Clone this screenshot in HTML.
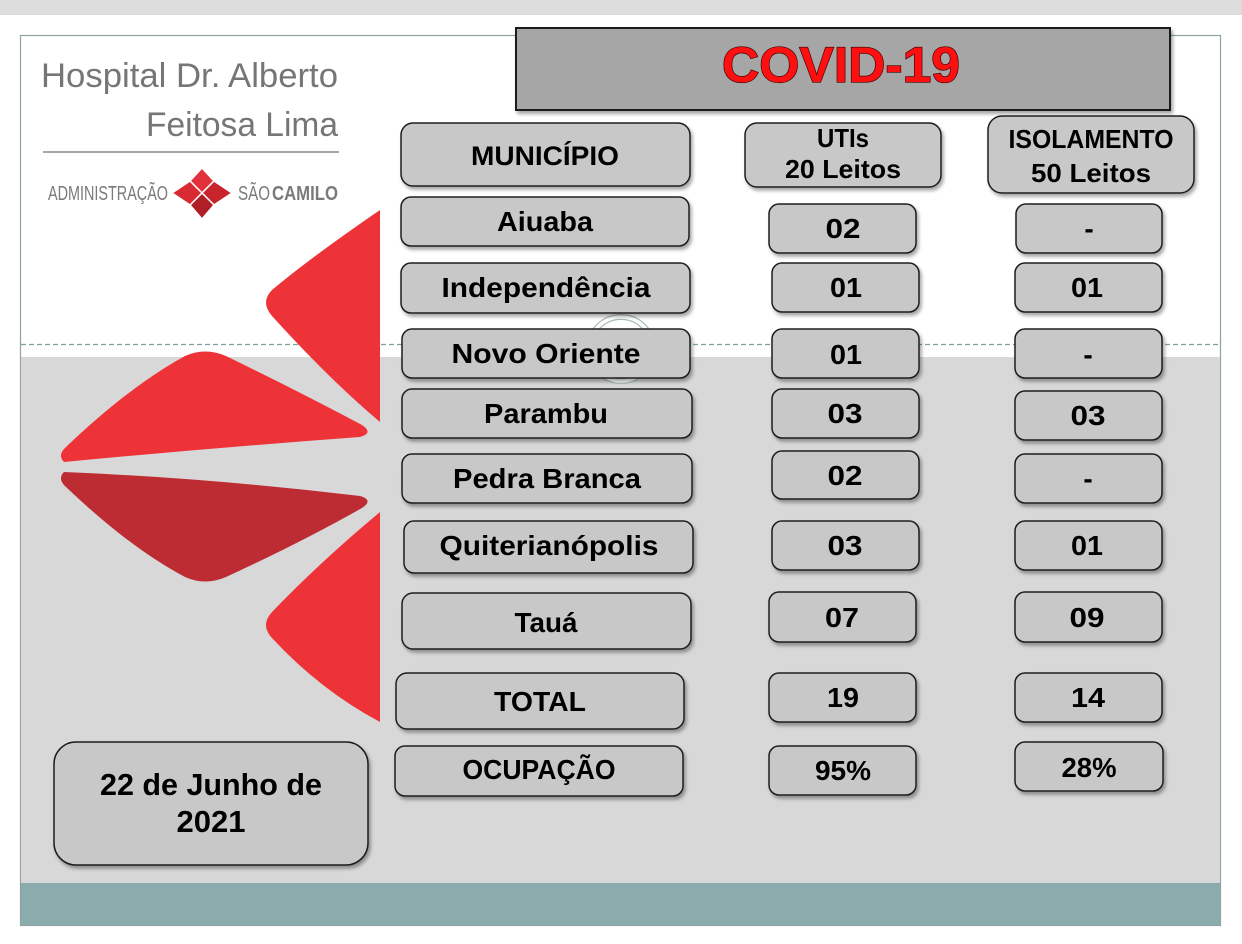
<!DOCTYPE html>
<html>
<head>
<meta charset="utf-8">
<style>
  html, body { margin: 0; padding: 0; background: #ffffff; }
  body { width: 1242px; height: 944px; overflow: hidden; }
  svg { display: block; }
  .lbl { font-family: "Liberation Sans", "DejaVu Sans", sans-serif; font-weight: bold; font-size: 28px; fill: #000; }
  .hdr { font-family: "Liberation Sans", "DejaVu Sans", sans-serif; font-weight: bold; font-size: 26px; fill: #000; }
</style>
</head>
<body>
<svg width="1242" height="944" viewBox="0 0 1242 944" xmlns="http://www.w3.org/2000/svg">
  <defs>
    <filter id="sh" x="-10%" y="-20%" width="130%" height="150%">
      <feDropShadow dx="2" dy="3" stdDeviation="1.8" flood-color="#000" flood-opacity="0.35"/>
    </filter>
  </defs>

  <!-- page background -->
  <rect x="0" y="0" width="1242" height="944" fill="#ffffff"/>
  <rect x="0" y="0" width="1242" height="15" fill="#dddddd"/>

  <!-- slide -->
  <rect x="20.5" y="35.5" width="1200" height="890" fill="#ffffff" stroke="#8fa3a3" stroke-width="1.2"/>
  <rect x="21" y="357" width="1199" height="526" fill="#d8d8d8"/>
  <rect x="21" y="883" width="1199" height="42" fill="#8aacac"/>
  <line x1="21" y1="344.5" x2="1220" y2="344.5" stroke="#7f9f9f" stroke-width="1.2" stroke-dasharray="5,3"/>

  <!-- red petals -->
  <path d="M380,210 Q310,258 272,290 Q260,302 272,316 Q330,380 380,422 Z" fill="#ee3338"/>
  <path d="M64,462 Q57,455 66,447 Q130,386 185,356 Q205,347 226,356 Q300,392 362,425 Q374,433 360,437 Q210,448 64,462 Z" fill="#ee3338"/>
  <path d="M64,472 Q210,478 360,496 Q374,500 362,508 Q300,543 226,577 Q205,586 185,577 Q130,548 66,487 Q57,479 64,472 Z" fill="#bd2b33"/>
  <path d="M380,512 Q320,562 272,612 Q260,625 272,638 Q320,690 380,722 Z" fill="#ee3338"/>

  <!-- logo -->
  <text x="41" y="87" textLength="297" lengthAdjust="spacingAndGlyphs" font-family="Liberation Sans, sans-serif" font-size="34" fill="#767676">Hospital Dr. Alberto</text>
  <text x="146" y="136" textLength="192" lengthAdjust="spacingAndGlyphs" font-family="Liberation Sans, sans-serif" font-size="34" fill="#767676">Feitosa Lima</text>
  <line x1="43" y1="152" x2="339" y2="152" stroke="#8a8a8a" stroke-width="1.5"/>
  <text x="48" y="200" textLength="120" lengthAdjust="spacingAndGlyphs" font-family="Liberation Sans, sans-serif" font-size="20" fill="#7a7a7a">ADMINISTRAÇÃO</text>
  <text x="238" y="200" textLength="32" lengthAdjust="spacingAndGlyphs" font-family="Liberation Sans, sans-serif" font-size="20" fill="#7a7a7a">SÃO</text>
  <text x="272" y="200" textLength="66" lengthAdjust="spacingAndGlyphs" font-family="Liberation Sans, sans-serif" font-weight="bold" font-size="20" fill="#7a7a7a">CAMILO</text>
  <g stroke="#ffffff" stroke-width="1.5" stroke-linejoin="round">
    <path d="M202,193 L190,181 L202,168 L214,181 Z" fill="#e0303a"/>
    <path d="M202,193 L214,181 L232,193 L214,205 Z" fill="#c8242c"/>
    <path d="M202,193 L214,205 L202,219 L190,205 Z" fill="#b01e26"/>
    <path d="M202,193 L190,205 L172,193 L190,181 Z" fill="#d82a33"/>
  </g>

  <!-- ring decoration -->
  <circle cx="621" cy="349" r="32" fill="none" stroke="#a9bdbd" stroke-width="6"/>
  <circle cx="621" cy="349" r="32" fill="none" stroke="#ffffff" stroke-width="3.5"/>

  <!-- COVID title -->
  <rect x="516" y="28" width="654" height="82" fill="#a6a6a6" stroke="#1e1e1e" stroke-width="2" filter="url(#sh)"/>
  <text x="841" y="82" text-anchor="middle" textLength="238" lengthAdjust="spacingAndGlyphs" font-family="Liberation Sans, sans-serif" font-weight="bold" font-size="50" fill="#ff1010" stroke="#3a0000" stroke-width="1.3" paint-order="stroke">COVID-19</text>

  <!-- boxes -->
  <g fill="#c8c8c8" stroke="#1e1e1e" stroke-width="1.5" filter="url(#sh)">
    <!-- headers -->
    <rect x="401" y="123" width="289" height="63" rx="12"/>
    <rect x="745" y="123" width="196" height="64" rx="12"/>
    <rect x="988" y="116" width="206" height="77" rx="14"/>
    <!-- municipio column -->
    <rect x="401" y="197" width="288" height="49" rx="10"/>
    <rect x="401" y="263" width="289" height="50" rx="10"/>
    <rect x="402" y="329" width="288" height="49" rx="10"/>
    <rect x="402" y="389" width="290" height="49" rx="10"/>
    <rect x="402" y="454" width="290" height="49" rx="10"/>
    <rect x="404" y="521" width="289" height="52" rx="10"/>
    <rect x="402" y="593" width="289" height="56" rx="11"/>
    <rect x="396" y="673" width="288" height="56" rx="11"/>
    <rect x="395" y="746" width="288" height="50" rx="10"/>
    <!-- UTI column -->
    <rect x="769" y="204" width="147" height="49" rx="10"/>
    <rect x="772" y="263" width="147" height="49" rx="10"/>
    <rect x="772" y="329" width="147" height="49" rx="10"/>
    <rect x="772" y="389" width="147" height="49" rx="10"/>
    <rect x="772" y="451" width="147" height="48" rx="10"/>
    <rect x="772" y="521" width="147" height="49" rx="10"/>
    <rect x="769" y="592" width="147" height="50" rx="10"/>
    <rect x="769" y="673" width="147" height="49" rx="10"/>
    <rect x="769" y="746" width="147" height="49" rx="10"/>
    <!-- ISO column -->
    <rect x="1016" y="204" width="146" height="49" rx="10"/>
    <rect x="1015" y="263" width="147" height="49" rx="10"/>
    <rect x="1015" y="329" width="147" height="49" rx="10"/>
    <rect x="1015" y="391" width="147" height="49" rx="10"/>
    <rect x="1015" y="454" width="147" height="49" rx="10"/>
    <rect x="1015" y="521" width="147" height="49" rx="10"/>
    <rect x="1015" y="592" width="147" height="50" rx="10"/>
    <rect x="1015" y="673" width="147" height="49" rx="10"/>
    <rect x="1015" y="742" width="148" height="49" rx="10"/>
    <!-- date -->
    <rect x="54" y="742" width="314" height="123" rx="22"/>
  </g>

  <!-- header texts -->
  <text class="lbl" x="545" y="165" text-anchor="middle" textLength="148" lengthAdjust="spacingAndGlyphs" style="font-size:27px">MUNICÍPIO</text>
  <text class="hdr" x="843" y="147" text-anchor="middle" textLength="52" lengthAdjust="spacingAndGlyphs">UTIs</text>
  <text class="hdr" x="843" y="178" text-anchor="middle" textLength="116" lengthAdjust="spacingAndGlyphs">20 Leitos</text>
  <text class="hdr" x="1091" y="148" text-anchor="middle" textLength="165" lengthAdjust="spacingAndGlyphs">ISOLAMENTO</text>
  <text class="hdr" x="1091" y="182" text-anchor="middle" textLength="120" lengthAdjust="spacingAndGlyphs">50 Leitos</text>

  <!-- municipio labels -->
  <text class="lbl" x="545" y="231" text-anchor="middle" textLength="96" lengthAdjust="spacingAndGlyphs">Aiuaba</text>
  <text class="lbl" x="546" y="297" text-anchor="middle" textLength="209" lengthAdjust="spacingAndGlyphs">Independência</text>
  <text class="lbl" x="546" y="363" text-anchor="middle" textLength="189" lengthAdjust="spacingAndGlyphs">Novo Oriente</text>
  <text class="lbl" x="546" y="423" text-anchor="middle" textLength="124" lengthAdjust="spacingAndGlyphs">Parambu</text>
  <text class="lbl" x="547" y="488" text-anchor="middle" textLength="188" lengthAdjust="spacingAndGlyphs">Pedra Branca</text>
  <text class="lbl" x="549" y="555" text-anchor="middle" textLength="219" lengthAdjust="spacingAndGlyphs">Quiterianópolis</text>
  <text class="lbl" x="546" y="632" text-anchor="middle" textLength="63" lengthAdjust="spacingAndGlyphs">Tauá</text>
  <text class="lbl" x="540" y="711" text-anchor="middle" textLength="92" lengthAdjust="spacingAndGlyphs">TOTAL</text>
  <text class="lbl" x="539" y="779" text-anchor="middle" textLength="153" lengthAdjust="spacingAndGlyphs">OCUPAÇÃO</text>

  <!-- UTI values -->
  <text class="lbl" x="843" y="238" text-anchor="middle" textLength="35" lengthAdjust="spacingAndGlyphs">02</text>
  <text class="lbl" x="846" y="297" text-anchor="middle" textLength="32" lengthAdjust="spacingAndGlyphs">01</text>
  <text class="lbl" x="846" y="364" text-anchor="middle" textLength="32" lengthAdjust="spacingAndGlyphs">01</text>
  <text class="lbl" x="845" y="423" text-anchor="middle" textLength="35" lengthAdjust="spacingAndGlyphs">03</text>
  <text class="lbl" x="845" y="485" text-anchor="middle" textLength="35" lengthAdjust="spacingAndGlyphs">02</text>
  <text class="lbl" x="845" y="555" text-anchor="middle" textLength="35" lengthAdjust="spacingAndGlyphs">03</text>
  <text class="lbl" x="842" y="627" text-anchor="middle" textLength="34" lengthAdjust="spacingAndGlyphs">07</text>
  <text class="lbl" x="843" y="707" text-anchor="middle" textLength="32" lengthAdjust="spacingAndGlyphs">19</text>
  <text class="lbl" x="843" y="780" text-anchor="middle" textLength="56" lengthAdjust="spacingAndGlyphs">95%</text>

  <!-- ISO values -->
  <text class="lbl" x="1089" y="238" text-anchor="middle">-</text>
  <text class="lbl" x="1087" y="297" text-anchor="middle" textLength="32" lengthAdjust="spacingAndGlyphs">01</text>
  <text class="lbl" x="1088" y="364" text-anchor="middle">-</text>
  <text class="lbl" x="1088" y="425" text-anchor="middle" textLength="35" lengthAdjust="spacingAndGlyphs">03</text>
  <text class="lbl" x="1088" y="488" text-anchor="middle">-</text>
  <text class="lbl" x="1087" y="555" text-anchor="middle" textLength="32" lengthAdjust="spacingAndGlyphs">01</text>
  <text class="lbl" x="1087" y="627" text-anchor="middle" textLength="35" lengthAdjust="spacingAndGlyphs">09</text>
  <text class="lbl" x="1088" y="707" text-anchor="middle" textLength="34" lengthAdjust="spacingAndGlyphs">14</text>
  <text class="lbl" x="1089" y="777" text-anchor="middle" textLength="55" lengthAdjust="spacingAndGlyphs">28%</text>

  <!-- date -->
  <text class="lbl" x="211" y="795" text-anchor="middle" textLength="222" lengthAdjust="spacingAndGlyphs" style="font-size:31px">22 de Junho de</text>
  <text class="lbl" x="211" y="832" text-anchor="middle" style="font-size:31px">2021</text>
</svg>
</body>
</html>
